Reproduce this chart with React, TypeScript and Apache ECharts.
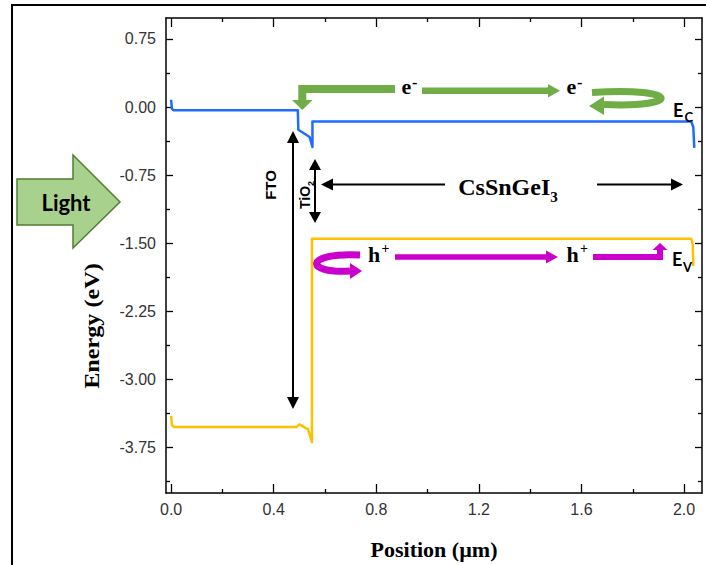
import React, { useEffect, useRef } from "react";
import * as echarts from "echarts";

// ---- data ----
const positionTicks = [0, 0.4, 0.8, 1.2, 1.6, 2.0];
const positionMinorTicks = [0.2, 0.6, 1.0, 1.4, 1.8];
const energyTicks = [0.75, 0, -0.75, -1.5, -2.25, -3.0, -3.75];
const energyMinorTicks = [0.375, -0.375, -1.125, -1.875, -2.625, -3.375, -4.125];

// conduction band (E_C)
const cbPosition = [0.0, 0.003, 0.01, 0.494, 0.496, 0.54, 0.551, 0.551, 2.028, 2.036, 2.04];
const cbEnergy = [0.08, -0.02, -0.037, -0.037, -0.25, -0.33, -0.44, -0.16, -0.16, -0.22, -0.45];
// valence band (E_V)
const vbPosition = [0.0, 0.003, 0.01, 0.49, 0.5, 0.534, 0.549, 0.549, 2.028, 2.034, 2.036];
const vbEnergy = [-3.4, -3.5, -3.523, -3.523, -3.494, -3.55, -3.69, -1.45, -1.45, -1.52, -1.75];

const X_MIN = -0.02;
const X_MAX = 2.07;
const Y_MIN = -4.25;
const Y_MAX = 0.98;

const SANS = '"Liberation Sans", Arial, sans-serif';
const SERIF = '"Liberation Serif", "Times New Roman", serif';
const CAL = 'Lato, "Liberation Sans", sans-serif';
const TICK_FONT = { fontFamily: SANS, fontSize: 16, color: "#333" };

function xAxisDef(position: string, values: number[], len: number, labels: boolean, line: boolean) {
  return {
    type: "value",
    position,
    min: X_MIN,
    max: X_MAX,
    axisLine: { show: line, onZero: false, lineStyle: { color: "#000", width: 1.5 } },
    axisTick: { show: true, inside: true, length: len, customValues: values, lineStyle: { color: "#000", width: 1.3 } },
    axisLabel: { show: labels, customValues: values, formatter: (v: number) => v.toFixed(1), margin: 8, ...TICK_FONT },
    splitLine: { show: false },
  };
}
function yAxisDef(position: string, values: number[], len: number, labels: boolean, line: boolean) {
  return {
    type: "value",
    position,
    min: Y_MIN,
    max: Y_MAX,
    axisLine: { show: line, onZero: false, lineStyle: { color: "#000", width: 1.5 } },
    axisTick: { show: true, inside: true, length: len, customValues: values, lineStyle: { color: "#000", width: 1.3 } },
    axisLabel: { show: labels, customValues: values, formatter: (v: number) => v.toFixed(2), margin: 10, ...TICK_FONT },
    splitLine: { show: false },
  };
}

// ---- annotation helpers ----
const Z = 100;
function ln(x1: number, y1: number, x2: number, y2: number, color: string, w: number) {
  return { type: "line", z: Z, silent: true, shape: { x1, y1, x2, y2 }, style: { stroke: color, lineWidth: w } };
}
function poly(points: number[][], color: string) {
  return { type: "polygon", z: Z, silent: true, shape: { points }, style: { fill: color } };
}
function pl(points: number[][], color: string, w: number) {
  return { type: "polyline", z: Z, silent: true, shape: { points }, style: { stroke: color, lineWidth: w, lineJoin: "miter", fill: null } };
}
function bz(x1: number, y1: number, x2: number, y2: number, c1x: number, c1y: number, c2x: number, c2y: number, color: string, w: number) {
  return {
    type: "bezierCurve", z: Z, silent: true,
    shape: { x1, y1, x2, y2, cpx1: c1x, cpy1: c1y, cpx2: c2x, cpy2: c2y },
    style: { stroke: color, lineWidth: w, fill: null },
  };
}
function tx(x: number, y: number, text: string, size: number, family: string, opts: any = {}) {
  return {
    type: "text", z: Z, silent: true, x, y,
    rotation: opts.rotation || 0,
    scaleX: opts.scaleX || 1,
    style: {
      text,
      fontSize: size,
      fontFamily: family,
      fontWeight: opts.weight || "bold",
      fill: opts.color || "#000",
      align: opts.align || "left",
      textAlign: opts.align || "left",
      verticalAlign: "middle",
      textVerticalAlign: "middle",
      rich: opts.rich,
    },
  };
}

const GREEN = "#70AD47";
const MAG = "#CC00CC";
const BLK = "#000";

const graphics: any[] = [
  // outer frame
  { type: "rect", z: Z, silent: true, shape: { x: 12, y: 5, width: 720, height: 620 }, style: { stroke: "#000", lineWidth: 2, fill: null } },
  // Light arrow
  {
    type: "polygon", z: Z, silent: true,
    shape: { points: [[17, 179], [73, 179], [73, 155], [120, 202], [73, 248], [73, 225], [17, 225]] },
    style: { fill: "#A9D18E", stroke: "#507E32", lineWidth: 1.5 },
  },
  tx(66, 202, "Light", 22, CAL, { align: "center" }),

  // FTO arrow
  ln(293, 141, 293, 399, BLK, 2),
  poly([[287, 143], [293, 131], [299, 143]], BLK),
  poly([[287, 397], [293, 409], [299, 397]], BLK),
  tx(270, 185, "FTO", 15, SANS, { align: "center", rotation: Math.PI / 2 }),

  // TiO2 arrow
  ln(315, 168, 315, 214, BLK, 2),
  poly([[309, 170], [315, 159], [321, 170]], BLK),
  poly([[309, 212], [315, 223], [321, 212]], BLK),
  tx(305, 195, "{a|TiO}{b|2}", 14, SANS, {
    align: "center",
    rotation: Math.PI / 2,
    rich: {
      a: { fontSize: 14, fontFamily: SANS, fontWeight: "bold", lineHeight: 20 },
      b: { fontSize: 9, fontFamily: SANS, fontWeight: "bold", lineHeight: 9, verticalAlign: "bottom" },
    },
  }),

  // CsSnGeI3 arrow
  ln(331, 184.5, 445, 184.5, BLK, 2),
  poly([[333, 178.5], [321, 184.5], [333, 190.5]], BLK),
  ln(597, 184.5, 673, 184.5, BLK, 2),
  poly([[671, 178.5], [683, 184.5], [671, 190.5]], BLK),
  tx(508, 187, "{a|CsSnGeI}{b|3}", 24, SERIF, {
    align: "center",
    rich: {
      a: { fontSize: 24, fontFamily: SERIF, fontWeight: "bold", lineHeight: 34 },
      b: { fontSize: 15, fontFamily: SERIF, fontWeight: "bold", lineHeight: 15, verticalAlign: "bottom" },
    },
  }),

  // green electron arrows
  pl([[395, 89], [302.3, 89], [302.3, 101]], GREEN, 8),
  poly([[292, 100], [312.5, 100], [302.3, 110]], GREEN),
  ln(422, 90.7, 549, 90.7, GREEN, 6.5),
  poly([[548, 84], [560, 90.7], [548, 97.5]], GREEN),
  bz(592, 92.5, 604, 104.5, 682, 87, 682, 108, GREEN, 7),
  poly([[604, 96.5], [589, 106], [604, 115]], GREEN),
  tx(401.5, 86, "e", 22, SERIF),
  tx(412, 82, "-", 16, SERIF),
  tx(566.5, 86, "e", 22, SERIF),
  tx(577, 82, "-", 16, SERIF),

  // magenta hole arrows
  bz(360, 255, 350, 271, 304, 252, 304, 274, MAG, 7),
  poly([[350, 263], [362, 271], [350, 279]], MAG),
  ln(395, 257, 547, 257, MAG, 5.5),
  poly([[546, 250.5], [558, 257], [546, 263.5]], MAG),
  pl([[593, 257], [660, 257], [660, 249]], MAG, 6),
  poly([[652.5, 250], [660, 243], [667.5, 250]], MAG),
  tx(368, 254, "h", 22, SERIF),
  tx(381.5, 248, "+", 14, SERIF),
  tx(566.5, 254, "h", 22, SERIF),
  tx(580, 248, "+", 14, SERIF),

  // band labels
  tx(673, 109.5, "E", 18, CAL),
  tx(684.5, 117, "C", 13, CAL),
  tx(672, 259, "E", 18, CAL),
  tx(683, 267, "V", 13, CAL),

  // axis titles
  tx(91, 326, "Energy (eV)", 22, SERIF, { align: "center", rotation: Math.PI / 2, scaleX: 1.1 }),
  tx(434, 549, "Position (µm)", 22, SERIF, { align: "center" }),
];

export default function App() {
  const ref = useRef<HTMLDivElement>(null);
  useEffect(() => {
    document.body.style.margin = "0";
    if (!ref.current) return;
    const chart = echarts.init(ref.current, null, { renderer: "svg" });
    chart.setOption({
      animation: false,
      backgroundColor: "#fff",
      grid: { left: 166, right: 4, top: 18, bottom: 72, containLabel: false, outerBoundsMode: "none" },
      xAxis: [
        xAxisDef("bottom", positionTicks, 9, true, true),
        xAxisDef("bottom", positionMinorTicks, 4, false, false),
        xAxisDef("top", positionTicks, 9, false, true),
        xAxisDef("top", positionMinorTicks, 4, false, false),
      ],
      yAxis: [
        yAxisDef("left", energyTicks, 7, true, true),
        yAxisDef("left", energyMinorTicks, 4, false, false),
        yAxisDef("right", energyTicks, 7, false, true),
        yAxisDef("right", energyMinorTicks, 4, false, false),
      ],
      series: [
        {
          name: "E_C",
          type: "line",
          xAxisIndex: 0,
          yAxisIndex: 0,
          data: cbPosition.map((x, i) => [x, cbEnergy[i]]),
          showSymbol: false,
          symbol: "none",
          lineStyle: { color: "#1F6BFF", width: 2.5, join: "round" },
          itemStyle: { color: "#1F6BFF" },
          z: 3,
        },
        {
          name: "E_V",
          type: "line",
          xAxisIndex: 0,
          yAxisIndex: 0,
          data: vbPosition.map((x, i) => [x, vbEnergy[i]]),
          showSymbol: false,
          symbol: "none",
          lineStyle: { color: "#FFC000", width: 2.5, join: "round" },
          itemStyle: { color: "#FFC000" },
          z: 3,
        },
      ],
      graphic: { elements: graphics },
    });
    return () => chart.dispose();
  }, []);
  return <div ref={ref} style={{ width: 706, height: 565 }} />;
}
